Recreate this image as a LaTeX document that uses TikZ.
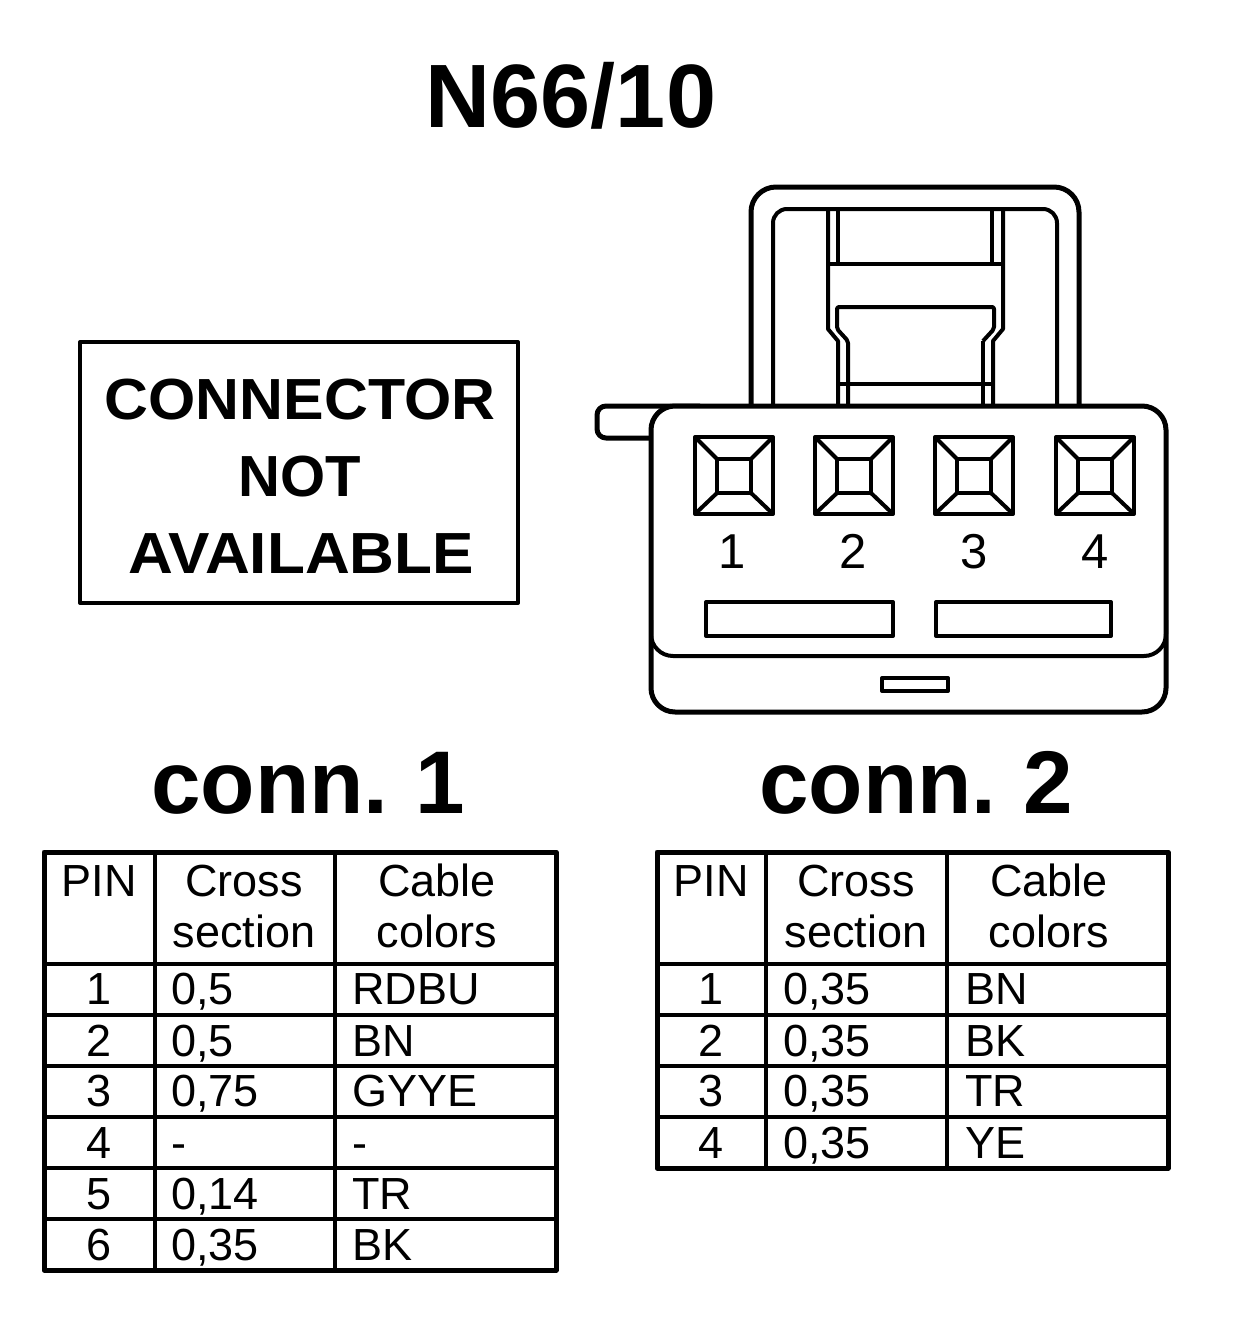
\documentclass[tikz,border=0pt]{standalone}
\usepackage{fontspec}
\setmainfont{Liberation Sans}
\newcommand{\fsz}[1]{\fontsize{#1}{#1}\selectfont}
\tikzset{
  x=1pt,y=-1pt,
  heavy/.style={line width=5pt,line join=round},
  med/.style={line width=4pt,line join=round},
  titletext/.style={inner sep=0pt,anchor=base,font=\fsz{90}\bfseries},
  connhead/.style={inner sep=0pt,anchor=base,font=\fsz{89}\bfseries},
  notice/.style={inner sep=0pt,anchor=base,font=\fsz{58}\bfseries},
  cell/.style={inner sep=0pt,anchor=base,font=\fsz{45}},
  lcell/.style={inner sep=0pt,anchor=base west,font=\fsz{45}},
  pinno/.style={inner sep=0pt,anchor=base,font=\fsz{49}},
}
\begin{document}
\begin{tikzpicture}
\useasboundingbox (0,0) rectangle (1248,1328);
\fill[white] (0,0) rectangle (1248,1328);
\node[titletext] (title) at (571,127) {N66/10};
% notice
\draw[med] (80,342) rectangle (518,603);
\node[notice] (n1) at (300,419) {\scalebox{1.048}[1]{CONNECTOR}};
\node[notice] (n2) at (300,496) {NOT};
\node[notice] (n3) at (301,573) {\scalebox{1.07}[1]{AVAILABLE}};
% handle
\draw[heavy,rounded corners=25pt] (751,405) -- (751,187) -- (1079,187) -- (1079,405);
\draw[med,rounded corners=14pt] (773,405) -- (773,209) -- (1057,209) -- (1057,405);
\draw[med] (838,209) -- (838,264) (992,209) -- (992,264);
\draw[med] (828,209) -- (828,329) -- (838,341) -- (838,405);
\draw[med] (1003,209) -- (1003,329) -- (993,341) -- (993,405);
\draw[med] (828,264) -- (1003,264);
\draw[med,rounded corners=2pt] (848,405) -- (848,341) -- (837,329) -- (837,307) -- (994,307) -- (994,329) -- (983,341);
\draw[med] (983,341) -- (983,405);
\draw[med] (838,384) -- (993,384);
% tab
\draw[heavy,fill=white,rounded corners=9pt] (652,438) -- (597,438) -- (597,406) -- (700,406);
% body
\draw[heavy,fill=white,rounded corners=24pt] (651,480) -- (651,406) -- (1166,406) -- (1166,712) -- (651,712) -- cycle;
\draw[med,rounded corners=22pt] (651,620) -- (651,656) -- (1166,656) -- (1166,620);
% pins
\foreach \cx in {734,854,974,1095}{
  \draw[med] (\cx-39,437) rectangle (\cx+39,514);
  \draw[med] (\cx-17,459) rectangle (\cx+17,493);
  \draw[med] (\cx-38,438) -- (\cx-17,459) (\cx+38,438) -- (\cx+17,459)
             (\cx-38,513) -- (\cx-17,493) (\cx+38,513) -- (\cx+17,493);
}
\node[pinno] (p1) at (732,568) {1};
\node[pinno] (p2) at (853,568) {2};
\node[pinno] (p3) at (974,568) {3};
\node[pinno] (p4) at (1095,568) {4};
% slots
\draw[med] (706,602) rectangle (893,636);
\draw[med] (936,602) rectangle (1111,636);
\draw[med] (882,678) rectangle (948,691);
% headings
\node[connhead] (c1) at (308,813) {conn.\hspace{-0.07em} 1};
\node[connhead] (c2) at (916,813) {conn.\hspace{-0.07em} 2};
% left table
\draw[heavy] (44,852) rectangle (556,1270);
\draw[med] (155,852) -- (155,1270) (335,852) -- (335,1270);
\foreach \yy in {964,1015,1066,1117,1168,1219} \draw[med] (44,\yy) -- (556,\yy);
% right table
\draw[heavy] (657,852) rectangle (1168,1168);
\draw[med] (766,852) -- (766,1168) (947,852) -- (947,1168);
\foreach \yy in {964,1015,1066,1117} \draw[med] (657,\yy) -- (1168,\yy);
% header text
\foreach \dx/\tn in {0/a,612/b}{
  \node[cell] (pin\tn) at (99+\dx,896) {PIN};
  \node[cell] (cs\tn) at (244+\dx,896) {Cross};
  \node[cell] (se\tn) at (244+\dx,947) {section};
  \node[cell] (ca\tn) at (437+\dx,896) {Cable};
  \node[cell] (co\tn) at (437+\dx,947) {colors};
}
% left rows
\foreach \yy/\pn/\cs/\col in {1004/1/{0,5}/RDBU,1056/2/{0,5}/BN,1106/3/{0,75}/GYYE,1158/4/-/-,1209/5/{0,14}/TR,1260/6/{0,35}/BK}{
  \node[cell] at (99,\yy) {\pn};
  \node[lcell] at (171,\yy) {\cs};
  \node[lcell] at (352,\yy) {\col};
}
% right rows
\foreach \yy/\pn/\cs/\col in {1004/1/{0,35}/BN,1056/2/{0,35}/BK,1106/3/{0,35}/TR,1158/4/{0,35}/YE}{
  \node[cell] at (711,\yy) {\pn};
  \node[lcell] at (783,\yy) {\cs};
  \node[lcell] at (965,\yy) {\col};
}
\end{tikzpicture}
\end{document}
